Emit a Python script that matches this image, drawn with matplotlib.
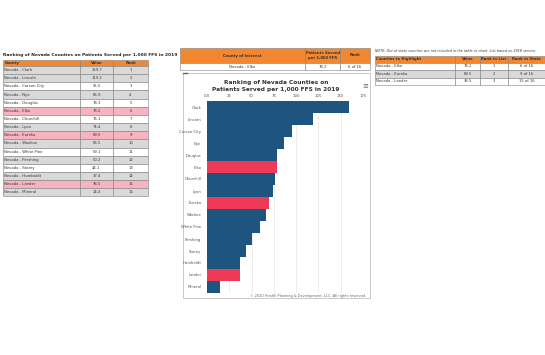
import matplotlib.pyplot as plt
import numpy as np

# data
counties = ['Clark', 'Lincoln', 'Carson City', 'Nye', 'Douglas', 'Elko', 'Churchill', 'Lyon',
            'Eureka', 'Washoe', 'White Pine', 'Pershing', 'Storey', 'Humboldt', 'Lander', 'Mineral']
values = [159.7, 119.2, 95.5, 86.9, 78.3, 78.2, 76.1, 74.4, 69.5, 66.5, 59.1, 50.2, 44.1, 37.4, 36.5, 14.4]
highlight = ['Elko', 'Eureka', 'Lander']
ticks = [0, 25, 50, 75, 100, 125, 150, 175]
tick_labels = ['0.0', '25', '50', '75', '100', '125', '150', '175']

NAVY = '#1d5480'
PINK = '#ee3a56'
ORANGE = '#f2872f'
GREY = '#d9d9d9'
LPINK = '#f7b3c0'
LINE = '#7f7f7f'

W, H = 545, 355
fig = plt.figure(figsize=(W / 100, H / 100), dpi=100)
fig.patch.set_facecolor('white')

# overlay in pixel coordinates for the tables
bg = fig.add_axes([0, 0, 1, 1], zorder=0)
bg.set_xlim(0, W)
bg.set_ylim(H, 0)
bg.axis('off')


def cell(x0, x1, y0, y1, fc, txt='', ha='center', fs=2.7, bold=False, color='#333333'):
    bg.add_patch(plt.Rectangle((x0, y0), x1 - x0, y1 - y0, facecolor=fc,
                               edgecolor=LINE, linewidth=0.4))
    if txt:
        tx = x0 + 1.5 if ha == 'left' else (x0 + x1) / 2
        bg.text(tx, (y0 + y1) / 2, txt, ha=ha, va='center', fontsize=fs,
                fontweight='bold' if bold else 'normal', color=color, linespacing=1.0)


# left table
bg.text(3, 55, 'Ranking of Nevada Counties on Patients Served per 1,000 FFS in 2019',
        fontsize=3.2, fontweight='bold', va='center', ha='left', color='#222222')
cols = [3, 80, 113, 148]
cell(cols[0], cols[1], 60, 66, ORANGE, 'County', ha='left', bold=True)
cell(cols[1], cols[2], 60, 66, ORANGE, 'Value', bold=True)
cell(cols[2], cols[3], 60, 66, ORANGE, 'Rank', bold=True)
rh = 8.15
for i, (c, v) in enumerate(zip(counties, values)):
    y0 = 66 + i * rh
    if c in highlight:
        fc = LPINK
    elif i % 2 == 1 or i == 0:
        fc = GREY
    else:
        fc = 'white'
    cell(cols[0], cols[1], y0, y0 + rh, fc, 'Nevada - ' + c, ha='left')
    cell(cols[1], cols[2], y0, y0 + rh, fc, f'{v:.1f}')
    cell(cols[2], cols[3], y0, y0 + rh, fc, str(i + 1))

# middle top table
elko = counties.index('Elko')
cell(180, 305, 48, 63, ORANGE, 'County of Interest', bold=True)
cell(305, 340, 48, 63, ORANGE, 'Patients Served\nper 1,000 FFS', bold=True)
cell(340, 370, 48, 63, ORANGE, 'Rank', bold=True)
cell(180, 305, 63, 70, 'white', 'Nevada - Elko')
cell(305, 340, 63, 70, 'white', f'{values[elko]:.1f}')
cell(340, 370, 63, 70, 'white', f'{elko + 1} of {len(counties)}')

# right table
bg.text(375, 51.5, 'NOTE: Out of state counties are not included in the table or chart. '
        'List based on 2018 service', fontsize=2.45, style='italic', va='center',
        ha='left', color='#333333')
rc = [375, 455, 480, 508, 545]
hdr = ['Counties to Highlight', 'Value', 'Rank in List', 'Rank in State']
for j, h in enumerate(hdr):
    cell(rc[j], rc[j + 1], 56, 62.5, ORANGE, h, ha='left' if j == 0 else 'center', bold=True)
for k, c in enumerate(highlight):
    y0 = 62.5 + k * 7.5
    fc = GREY if k % 2 == 1 else 'white'
    idx = counties.index(c)
    cell(rc[0], rc[1], y0, y0 + 7.5, fc, 'Nevada - ' + c, ha='left')
    cell(rc[1], rc[2], y0, y0 + 7.5, fc, f'{values[idx]:.1f}')
    cell(rc[2], rc[3], y0, y0 + 7.5, fc, str(k + 1))
    cell(rc[3], rc[4], y0, y0 + 7.5, fc, f'{idx + 1} of {len(counties)}')

# chart frame
bg.add_patch(plt.Rectangle((183, 73), 187, 225, facecolor='white', edgecolor='#bfbfbf', linewidth=0.6))
bg.plot([183, 187], [73, 73], color='#2f6fa8', linewidth=1)
bg.text(276, 86, 'Ranking of Nevada Counties on\nPatients Served per 1,000 FFS in 2019',
        ha='center', va='center', fontsize=4.2, fontweight='bold', color='#333333', linespacing=1.35)
bg.text(365, 86, '≡', ha='center', va='center', fontsize=5, color='#666666')
bg.text(366, 296, '© 2020 Health Planning & Development, LLC. All rights reserved.',
        ha='right', va='center', fontsize=2.5, color='#666666')

# bar chart
ax = fig.add_axes([207 / W, (H - 293) / H, 156 / W, 192 / H], zorder=1)
ax.patch.set_alpha(0)
y = np.arange(len(counties))
colors = [PINK if c in highlight else NAVY for c in counties]
ax.barh(y, values, height=1.0, color=colors, zorder=2)
ax.set_ylim(len(counties) - 0.5, -0.5)
ax.set_xlim(0, 175)
ax.set_xticks(ticks)
ax.set_xticklabels(tick_labels)
ax.set_yticks(y)
ax.set_yticklabels(counties)
ax.xaxis.tick_top()
ax.tick_params(axis='x', length=0, labelsize=2.8, colors='#555555', pad=2.5)
ax.tick_params(axis='y', length=0, labelsize=2.7, colors='#555555', pad=4)
ax.grid(axis='x', color='#e6e6e6', linewidth=0.5, zorder=0)
for s in ax.spines.values():
    s.set_visible(False)

plt.savefig('out.png', dpi=100)
